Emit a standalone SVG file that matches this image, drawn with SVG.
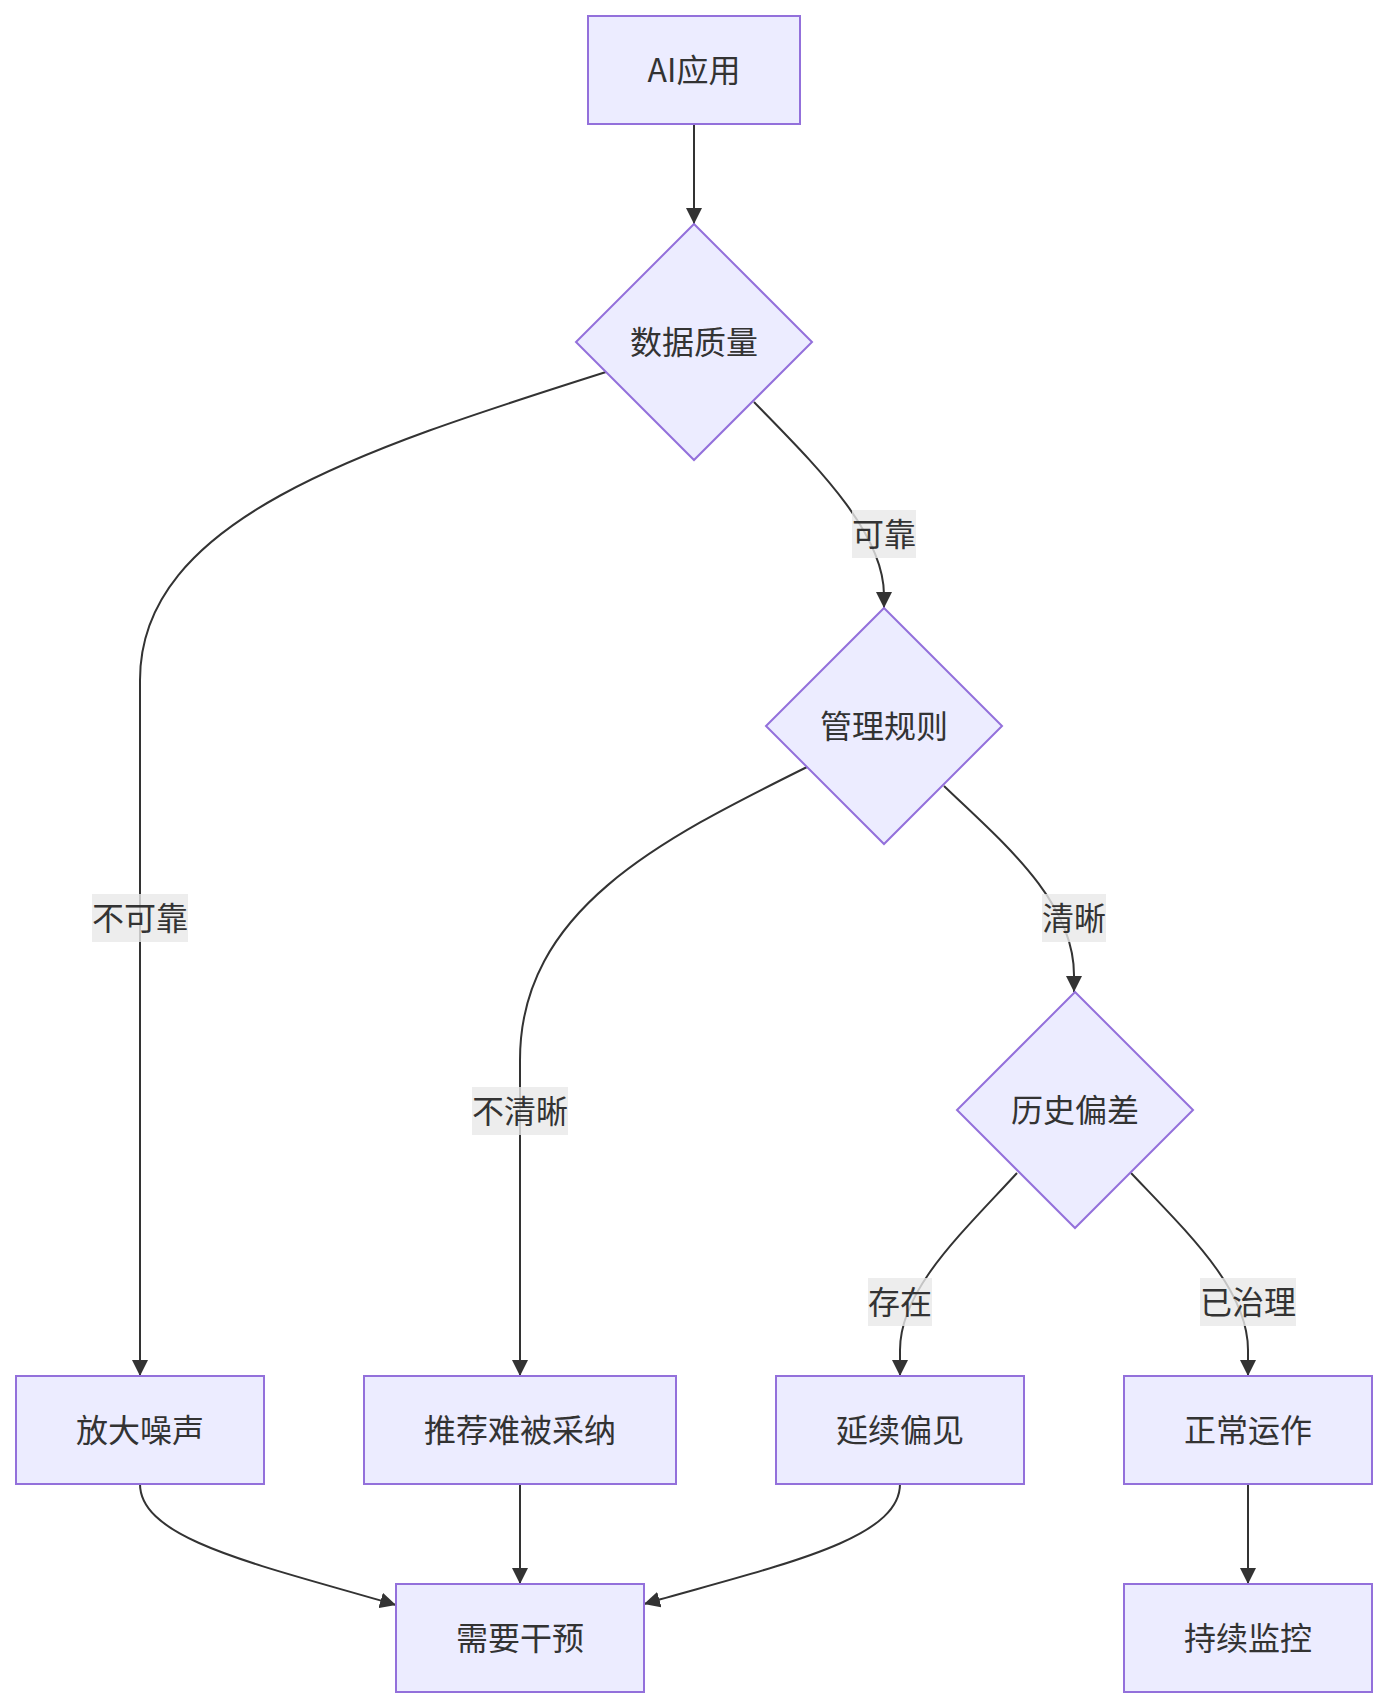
<svg xmlns="http://www.w3.org/2000/svg" width="1388" height="1708" viewBox="0 0 1388 1708">
<style>
.node rect, .node polygon { fill: #ECECFF; stroke: #9370DB; stroke-width: 2; }
.node text, .label text { font-family: "Noto Sans CJK SC", "Liberation Sans", sans-serif; font-size: 32px; fill: #333333; text-anchor: middle; dominant-baseline: central; }
.edge { fill: none; stroke: #333333; stroke-width: 2; }
.label rect { fill: #e8e8e8; opacity: 0.8; }
</style>
<defs>
<marker id="arrow" viewBox="0 0 10 10" refX="10" refY="5" markerUnits="userSpaceOnUse" markerWidth="16" markerHeight="16" orient="auto">
<path d="M0,0 L10,5 L0,10 z" fill="#333333"/>
</marker>
</defs>
<rect width="1388" height="1708" fill="#ffffff"/>
<g id="connectors">
<path class="edge" d="M694,124 L694,224" marker-end="url(#arrow)"/>
<path class="edge" d="M606,372 C360,450 140,520 140,680 L140,1376" marker-end="url(#arrow)"/>
<path class="edge" d="M754,402 C810,460 884,530 884,595 L884,608" marker-end="url(#arrow)"/>
<path class="edge" d="M807,767 C660,840 520,910 520,1060 L520,1376" marker-end="url(#arrow)"/>
<path class="edge" d="M944,786 C1000,840 1074,900 1074,975 L1074,992" marker-end="url(#arrow)"/>
<path class="edge" d="M1017,1173 C960,1235 900,1290 900,1350 L900,1376" marker-end="url(#arrow)"/>
<path class="edge" d="M1131,1173 C1190,1235 1248,1290 1248,1350 L1248,1376" marker-end="url(#arrow)"/>
<path class="edge" d="M140,1484 C140,1540 260,1565 396,1605" marker-end="url(#arrow)"/>
<path class="edge" d="M520,1484 L520,1584" marker-end="url(#arrow)"/>
<path class="edge" d="M900,1484 C900,1540 780,1565 644,1604" marker-end="url(#arrow)"/>
<path class="edge" d="M1248,1484 L1248,1584" marker-end="url(#arrow)"/>
</g>
<g id="edge-labels">
<g class="label" id="label-kekao"><rect x="852" y="510" width="64" height="48"/><text x="884" y="532">可靠</text></g>
<g class="label" id="label-bukekao"><rect x="92" y="894" width="96" height="48"/><text x="140" y="916">不可靠</text></g>
<g class="label" id="label-qingxi"><rect x="1042" y="894" width="64" height="48"/><text x="1074" y="916">清晰</text></g>
<g class="label" id="label-buqingxi"><rect x="472" y="1087" width="96" height="48"/><text x="520" y="1109">不清晰</text></g>
<g class="label" id="label-cunzai"><rect x="868" y="1278" width="64" height="48"/><text x="900" y="1300">存在</text></g>
<g class="label" id="label-yizhili"><rect x="1200" y="1278" width="96" height="48"/><text x="1248" y="1300">已治理</text></g>
</g>
<g class="node" id="node-ai"><rect x="588" y="16" width="212" height="108"/><text x="694" y="68">AI应用</text></g>
<g class="node" id="node-shuju"><polygon points="694,224 812,342 694,460 576,342"/><text x="694" y="340">数据质量</text></g>
<g class="node" id="node-guanli"><polygon points="884,608 1002,726 884,844 766,726"/><text x="884" y="724">管理规则</text></g>
<g class="node" id="node-lishi"><polygon points="1075,992 1193,1110 1075,1228 957,1110"/><text x="1075" y="1108">历史偏差</text></g>
<g class="node" id="node-fangda"><rect x="16" y="1376" width="248" height="108"/><text x="140" y="1428">放大噪声</text></g>
<g class="node" id="node-tuijian"><rect x="364" y="1376" width="312" height="108"/><text x="520" y="1428">推荐难被采纳</text></g>
<g class="node" id="node-yanxu"><rect x="776" y="1376" width="248" height="108"/><text x="900" y="1428">延续偏见</text></g>
<g class="node" id="node-zhengchang"><rect x="1124" y="1376" width="248" height="108"/><text x="1248" y="1428">正常运作</text></g>
<g class="node" id="node-xuyao"><rect x="396" y="1584" width="248" height="108"/><text x="520" y="1636">需要干预</text></g>
<g class="node" id="node-chixu"><rect x="1124" y="1584" width="248" height="108"/><text x="1248" y="1636">持续监控</text></g>
</svg>
